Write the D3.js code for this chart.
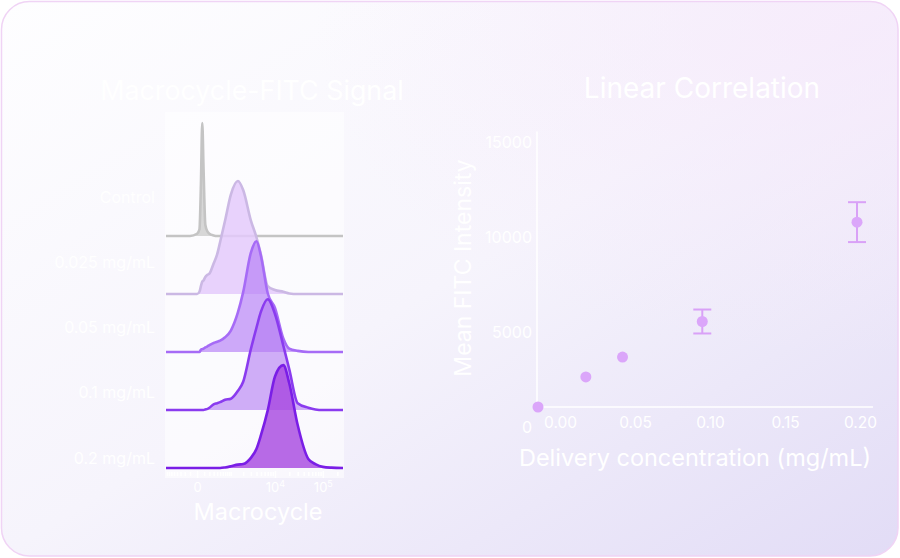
<!DOCTYPE html>
<html><head><meta charset="utf-8">
<script src="https://cdn.jsdelivr.net/npm/d3@7"></script>
<style>html,body{margin:0;padding:0;background:#fff;} svg{display:block;font-family:Inter,"Noto Sans",sans-serif;}</style>
</head><body>
<svg id="chart" width="900" height="558"></svg>
<script>
// ---------- data ----------
const leftTitle = "Macrocycle-FITC Signal";
const rightTitle = "Linear Correlation";
const samples = ["Control", "0.025 mg/mL", "0.05 mg/mL", "0.1 mg/mL", "0.2 mg/mL"];
const fluorGrid = [-850, -300, -100, 0, 30, 50, 70, 90, 120, 160, 200, 300, 400, 500, 700, 1000, 1500, 2000, 3000, 4000, 5000, 7000, 10000, 15000, 20000, 30000, 50000, 70000, 100000, 150000, 262000];
const densControl = [0, 0, 0, 0.02, 0.06, 0.45, 1.0, 0.6, 0.1, 0.04, 0.02, 0.005, 0, 0, 0, 0, 0, 0, 0, 0, 0, 0, 0, 0, 0, 0, 0, 0, 0, 0, 0];
const dens025 = [0, 0, 0, 0, 0.02, 0.07, 0.11, 0.12, 0.15, 0.17, 0.18, 0.27, 0.35, 0.46, 0.65, 0.88, 1.0, 0.92, 0.65, 0.5, 0.35, 0.07, 0.035, 0.02, 0.005, 0, 0, 0, 0, 0, 0];
const dens05 = [0, 0, 0, 0, 0, 0.02, 0.025, 0.03, 0.04, 0.05, 0.06, 0.08, 0.09, 0.1, 0.13, 0.19, 0.35, 0.53, 0.88, 0.98, 0.85, 0.52, 0.39, 0.12, 0.03, 0.01, 0, 0, 0, 0, 0];
const dens1 = [0, 0, 0, 0, 0, 0, 0, 0, 0.005, 0.01, 0.02, 0.05, 0.06, 0.07, 0.09, 0.1, 0.17, 0.25, 0.54, 0.73, 0.87, 0.98, 0.85, 0.57, 0.36, 0.06, 0.02, 0.005, 0, 0, 0];
const dens2 = [0, 0, 0, 0, 0, 0, 0, 0, 0, 0, 0, 0, 0, 0, 0.005, 0.015, 0.03, 0.035, 0.09, 0.17, 0.29, 0.51, 0.81, 0.91, 0.75, 0.38, 0.08, 0.035, 0.01, 0.003, 0];
const densities = [densControl, dens025, dens05, dens1, dens2];
const ridgeMajorTicks = [0, 10000, 100000];
const ridgeMajorBase = ["0", "10", "10"];
const ridgeMajorExp = ["", "4", "5"];
const ridgeMinorTicks = [-800,-700,-600,-500,-400,-300,-200,-100,100,200,300,400,500,600,700,800,900,1000,2000,3000,4000,5000,6000,7000,8000,9000,20000,30000,40000,50000,60000,70000,80000,90000,200000];
const ridgeXLabel = "Macrocycle";

const concentrations = [0, 0.030, 0.053, 0.103, 0.2];
const meanIntensity = [0, 1580, 2630, 4500, 9730];
const intensityError = [0, 0, 0, 630, 1050];
const xTicks = [0, 0.05, 0.10, 0.15, 0.20];
const yTicks = [0, 5000, 10000, 15000];
const xLabel = "Delivery concentration (mg/mL)";
const yLabel = "Mean FITC Intensity";

// ---------- styles ----------
const fills = ["#d0d0d0", "#e4cafc", "#b47cf6", "#b27af2", "#a646e0"];
const fillOp = [0.85, 0.85, 0.65, 0.6, 0.8];
const strokes = ["#c4c4c4", "#cbb8e4", "#a66bf6", "#8a3bef", "#7a1ee6"];

const svg = d3.select("#chart");
const defs = svg.append("defs");
const lg = defs.append("linearGradient").attr("id","bg").attr("x1","0").attr("y1","0").attr("x2","1").attr("y2","1");
lg.append("stop").attr("offset","0%").attr("stop-color","#fefeff");
lg.append("stop").attr("offset","50%").attr("stop-color","#f6f4fc");
lg.append("stop").attr("offset","100%").attr("stop-color","#e2dcf6");
const rg = defs.append("radialGradient").attr("id","pink").attr("cx","0.95").attr("cy","0.05").attr("r","0.6");
rg.append("stop").attr("offset","0%").attr("stop-color","#f6e8fb").attr("stop-opacity",0.7);
rg.append("stop").attr("offset","100%").attr("stop-color","#f6e8fb").attr("stop-opacity",0);

svg.append("rect").attr("x",1.5).attr("y",1.5).attr("width",896.5).attr("height",554.5).attr("rx",28)
  .attr("fill","url(#bg)");
svg.append("rect").attr("x",1.5).attr("y",1.5).attr("width",896.5).attr("height",554.5).attr("rx",28)
  .attr("fill","url(#pink)").attr("stroke","#f0d4f5").attr("stroke-width",1.5);

const white = "#ffffff";

// ---------- left: ridge plot ----------
svg.append("text").attr("x",252).attr("y",100).attr("text-anchor","middle")
  .attr("font-size",26.8).attr("fill",white).text(leftTitle);

svg.append("rect").attr("x",165).attr("y",112).attr("width",179).attr("height",366)
  .attr("fill","#ffffff").attr("opacity",0.55);

const xR = d3.scaleSymlog().constant(250).domain([-850, 262000]).range([166, 343]);
const yBase = d3.scalePoint().domain(samples).range([236, 468]);
const yLab = d3.scalePoint().domain(samples).range([197, 458]);
const hD = d3.scaleLinear().domain([0, 1]).range([0, 113]);

samples.forEach((s, i) => {
  const base = yBase(s);
  const pts = fluorGrid.map((v, j) => ({v: v, d: densities[i][j]}));
  const area = d3.area().x(d => xR(d.v)).y0(base).y1(d => base - hD(d.d)).curve(d3.curveMonotoneX);
  const line = d3.line().x(d => xR(d.v)).y(d => base - hD(d.d)).curve(d3.curveMonotoneX);
  svg.append("path").datum(pts).attr("d", area).attr("fill", fills[i]).attr("fill-opacity", fillOp[i]);
  svg.append("path").datum(pts).attr("d", line).attr("fill","none").attr("stroke", strokes[i])
    .attr("stroke-width", 2.6).attr("stroke-linejoin","round").attr("stroke-linecap","butt");
  svg.append("text").attr("x",155).attr("y",yLab(s)).attr("dy","0.35em").attr("text-anchor","end")
    .attr("font-size",16).attr("fill",white).text(s);
});

const minorAxis = d3.axisBottom(xR).tickValues(ridgeMinorTicks).tickSize(4).tickFormat("");
const gMinor = svg.append("g").attr("transform","translate(0,472)").call(minorAxis);
gMinor.select(".domain").remove();
gMinor.selectAll("line").attr("stroke",white).attr("stroke-width",1.5);

const majorAxis = d3.axisBottom(xR).tickValues(ridgeMajorTicks).tickSize(7).tickFormat("");
const gMajor = svg.append("g").attr("transform","translate(0,471)").call(majorAxis);
gMajor.select(".domain").remove();
gMajor.selectAll("line").attr("stroke",white).attr("stroke-width",1.5);
gMajor.selectAll(".tick").each(function(d, i) {
  const t = d3.select(this).append("text").attr("y", 21).attr("text-anchor","middle")
    .attr("fill", white).attr("font-size", 13).attr("font-family","Inter, sans-serif");
  t.append("tspan").text(ridgeMajorBase[i]);
  if (ridgeMajorExp[i]) t.append("tspan").attr("dy", -5).attr("font-size", 9).text(ridgeMajorExp[i]);
});

svg.append("text").attr("x",258).attr("y",520).attr("text-anchor","middle")
  .attr("font-size",23.5).attr("fill",white).text(ridgeXLabel);

// ---------- right: scatter ----------
svg.append("text").attr("x",702).attr("y",98).attr("text-anchor","middle")
  .attr("font-size",28).attr("fill",white).text(rightTitle);

const x = d3.scaleLinear().domain([0, 0.2]).range([538, 857]);
const y = d3.scaleLinear().domain([0, 15000]).range([407, 122]);
const xLabScale = x.copy().range([560, 860]);

svg.append("line").attr("x1",x(0)-1).attr("x2",x(0.21)).attr("y1",y(0)).attr("y2",y(0))
  .attr("stroke",white).attr("stroke-width",1.5);
svg.append("line").attr("x1",x(0)-1).attr("x2",x(0)-1).attr("y1",y(0)).attr("y2",y(14500))
  .attr("stroke",white).attr("stroke-width",1.5);

const gy = svg.append("g").attr("transform",`translate(${x(0)-1},0)`)
  .call(d3.axisLeft(y).tickValues(yTicks).tickSize(0).tickPadding(5).tickFormat(d3.format("d")));
gy.select(".domain").remove();
gy.selectAll("text").attr("fill",white).attr("font-size",16).attr("font-family","Inter, sans-serif")
  .attr("transform","translate(0,20)");

const gx = svg.append("g").attr("transform",`translate(0,${y(0)})`)
  .call(d3.axisBottom(xLabScale).tickValues(xTicks).tickSize(0).tickPadding(10).tickFormat(d3.format(".2f")));
gx.select(".domain").remove();
gx.selectAll("text").attr("fill",white).attr("font-size",15.5).attr("font-family","Inter, sans-serif");

const pointColor = "#dba6fa";
const errColor = "#d9a1f7";
concentrations.forEach((c, i) => {
  const e = intensityError[i];
  if (e > 0) {
    const cx = x(c);
    svg.append("line").attr("x1",cx).attr("x2",cx).attr("y1",y(meanIntensity[i]+e)).attr("y2",y(meanIntensity[i]-e))
      .attr("stroke",errColor).attr("stroke-width",2);
    [meanIntensity[i]+e, meanIntensity[i]-e].forEach(v => {
      svg.append("line").attr("x1",cx-9).attr("x2",cx+9).attr("y1",y(v)).attr("y2",y(v))
        .attr("stroke",errColor).attr("stroke-width",2);
    });
  }
});
svg.selectAll("circle.pt").data(concentrations).enter().append("circle").attr("class","pt")
  .attr("cx", d => x(d)).attr("cy", (d, i) => y(meanIntensity[i])).attr("r", 5.5).attr("fill", pointColor);

svg.append("text").attr("x",695).attr("y",466).attr("text-anchor","middle")
  .attr("font-size",23.5).attr("fill",white).text(xLabel);
svg.append("text").attr("transform","translate(471,268) rotate(-90)").attr("text-anchor","middle")
  .attr("font-size",23).attr("fill",white).text(yLabel);
</script></body></html>
